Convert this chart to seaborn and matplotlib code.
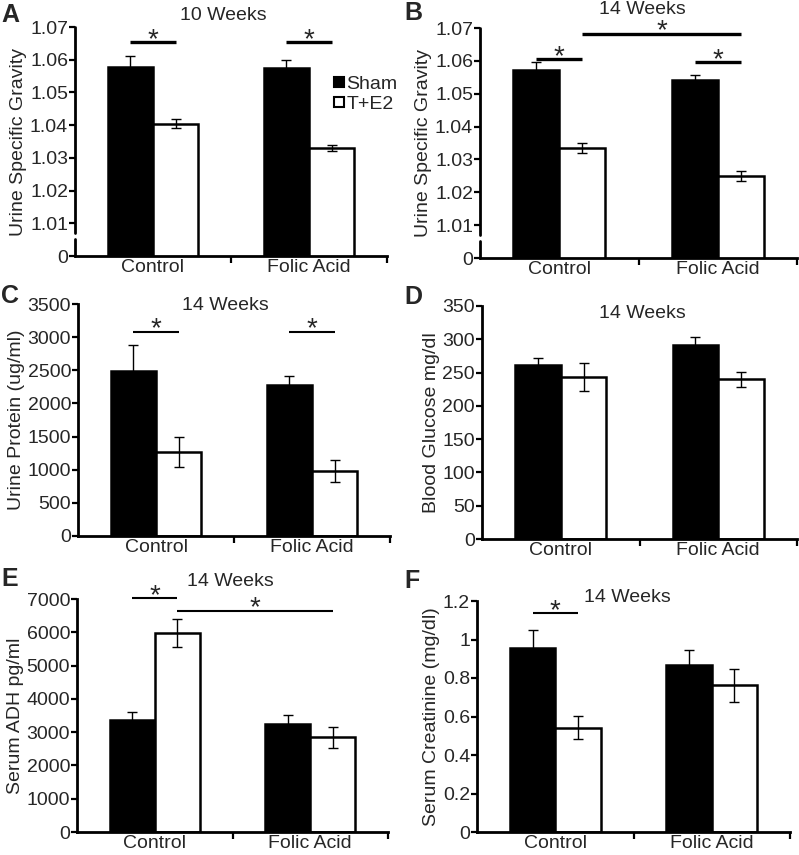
import numpy as np
import pandas as pd
import matplotlib
matplotlib.use("Agg")
import matplotlib.pyplot as plt
import seaborn as sns
from matplotlib.lines import Line2D

# data
groups = ["Control", "Folic Acid"]
treatments = ["Sham", "T+E2"]

# A - urine specific gravity, 10 weeks
a_sham = [1.0578, 1.0576]
a_sham_err = [0.0033, 0.0022]
a_te2 = [1.0405, 1.0329]
a_te2_err = [0.0015, 0.0009]

# B - urine specific gravity, 14 weeks
b_sham = [1.0571, 1.0541]
b_sham_err = [0.0026, 0.0015]
b_te2 = [1.0335, 1.0250]
b_te2_err = [0.0015, 0.0015]

# C - urine protein
c_sham = [2490, 2276]
c_sham_err = [390, 140]
c_te2 = [1261, 980]
c_te2_err = [225, 165]

# D - blood glucose
d_sham = [261, 292]
d_sham_err = [11, 11]
d_te2 = [243, 240]
d_te2_err = [21, 11]

# E - serum ADH
e_sham = [3360, 3240]
e_sham_err = [250, 270]
e_te2 = [5972, 2841]
e_te2_err = [420, 320]

# F - serum creatinine
f_sham = [0.956, 0.869]
f_sham_err = [0.093, 0.074]
f_te2 = [0.542, 0.762]
f_te2_err = [0.06, 0.085]

sg_ticks = [1.00, 1.01, 1.02, 1.03, 1.04, 1.05, 1.06, 1.07]
sg_labels = ["0", "1.01", "1.02", "1.03", "1.04", "1.05", "1.06", "1.07"]

sns.set_theme(style="ticks")
plt.rcParams["font.family"] = ["Liberation Sans", "DejaVu Sans"]

W, H = 799, 855
fig = plt.figure(figsize=(W / 100, H / 100), dpi=100)
FS = 14


def box(l, r, t, b):
    return [l / W, 1 - b / H, (r - l) / W, (b - t) / H]


def fig_text(x, y, s, **kw):
    fig.text(x / W, 1 - y / H, s, **kw)


panels = [
    dict(letter="A", lpos=(1, 15), title="10 Weeks", tpos=(223, 15),
         ylabel="Urine Specific Gravity", rect=box(75, 387, 27, 256),
         sham=a_sham, sham_err=a_sham_err, te2=a_te2, te2_err=a_te2_err,
         ylim=(1.0, 1.07), ticks=sg_ticks, labels=sg_labels, brk=(1.0051, 1.0069),
         brackets=[(("Sham", 0), ("T+E2", 0), 1.0654), (("Sham", 1), ("T+E2", 1), 1.0654)],
         blw=2.4, legend=True),
    dict(letter="B", lpos=(404, 13), title="14 Weeks", tpos=(642, 10),
         ylabel="Urine Specific Gravity", rect=box(480, 797, 28, 258),
         sham=b_sham, sham_err=b_sham_err, te2=b_te2, te2_err=b_te2_err,
         ylim=(1.0, 1.07), ticks=sg_ticks, labels=sg_labels, brk=(1.0051, 1.0069),
         brackets=[(("Sham", 0), ("T+E2", 0), 1.0606), (("T+E2", 0), ("T+E2", 1), 1.0683),
                   (("Sham", 1), ("T+E2", 1), 1.0596)],
         blw=2.4, legend=False),
    dict(letter="C", lpos=(1, 296), title="14 Weeks", tpos=(225, 305),
         ylabel="Urine Protein (ug/ml)", rect=box(78, 390, 304, 536),
         sham=c_sham, sham_err=c_sham_err, te2=c_te2, te2_err=c_te2_err,
         ylim=(0, 3500), ticks=list(range(0, 3501, 500)), labels=None, brk=None,
         brackets=[(("Sham", 0), ("T+E2", 0), 3080), (("Sham", 1), ("T+E2", 1), 3080)],
         blw=1.5, legend=False),
    dict(letter="D", lpos=(404, 297), title="14 Weeks", tpos=(642, 313),
         ylabel="Blood Glucose mg/dl", rect=box(482, 797, 306, 539),
         sham=d_sham, sham_err=d_sham_err, te2=d_te2, te2_err=d_te2_err,
         ylim=(0, 350), ticks=list(range(0, 351, 50)), labels=None, brk=None,
         brackets=[], blw=1.5, legend=False),
    dict(letter="E", lpos=(1, 579), title="14 Weeks", tpos=(230, 581),
         ylabel="Serum ADH pg/ml", rect=box(77, 388, 599, 832),
         sham=e_sham, sham_err=e_sham_err, te2=e_te2, te2_err=e_te2_err,
         ylim=(0, 7000), ticks=list(range(0, 7001, 1000)), labels=None, brk=None,
         brackets=[(("Sham", 0), ("T+E2", 0), 7019), (("T+E2", 0), ("T+E2", 1), 6650)],
         blw=1.5, legend=False),
    dict(letter="F", lpos=(404, 581), title="14 Weeks", tpos=(627, 597),
         ylabel="Serum Creatinine (mg/dl)", rect=box(477, 790, 601, 832),
         sham=f_sham, sham_err=f_sham_err, te2=f_te2, te2_err=f_te2_err,
         ylim=(0, 1.2), ticks=[0, 0.2, 0.4, 0.6, 0.8, 1.0, 1.2],
         labels=["0", "0.2", "0.4", "0.6", "0.8", "1", "1.2"], brk=None,
         brackets=[(("Sham", 0), ("T+E2", 0), 1.137)], blw=1.5, legend=False),
]

for p in panels:
    ax = fig.add_axes(p["rect"])
    df = pd.DataFrame({
        "group": groups * 2,
        "treatment": ["Sham"] * 2 + ["T+E2"] * 2,
        "value": p["sham"] + p["te2"],
    })
    sns.barplot(data=df, x="group", y="value", hue="treatment", hue_order=treatments,
                palette={"Sham": "black", "T+E2": "white"}, edgecolor="black",
                linewidth=1.8, width=0.58, errorbar=None, legend=False, ax=ax)

    # error bars and bar centres from the bar containers
    centres = {}
    for k, (treat, errs) in enumerate([("Sham", p["sham_err"]), ("T+E2", p["te2_err"])]):
        bars = ax.containers[k]
        xs = [b.get_x() + b.get_width() / 2 for b in bars]
        ys = [b.get_height() for b in bars]
        for i, x in enumerate(xs):
            centres[(treat, i)] = x
        ax.errorbar(xs, ys, yerr=errs, fmt="none", ecolor="black", elinewidth=1,
                    capsize=3.5, capthick=1, zorder=5)

    for a, b, y in p["brackets"]:
        x1, x2 = centres[a], centres[b]
        ax.plot([x1, x2], [y, y], color="black", lw=p["blw"], clip_on=False, solid_capstyle="butt")
        ax.annotate("*", xy=((x1 + x2) / 2, y), xytext=(0, -3.5), textcoords="offset points",
                    ha="center", va="baseline", fontsize=20, annotation_clip=False)

    ax.set_xlim(-0.5, 1.5)
    ax.set_ylim(*p["ylim"])
    ax.set_yticks(p["ticks"])
    if p["labels"] is not None:
        ax.set_yticklabels(p["labels"])
    ax.set_xticks([0, 1])
    ax.set_xticklabels(groups)
    ax.set_xticks([0.5, 1.5], minor=True)
    ax.set_xlabel("")
    ax.set_ylabel(p["ylabel"], fontsize=FS, labelpad=2)
    ax.tick_params(axis="x", which="major", length=0, labelsize=FS, pad=2)
    ax.tick_params(axis="x", which="minor", length=5, width=1.6, direction="out", color="black")
    ax.tick_params(axis="y", length=4, width=1.6, direction="out", labelsize=FS, pad=1, color="black")
    for s in ["top", "right"]:
        ax.spines[s].set_visible(False)
    for s in ["left", "bottom"]:
        ax.spines[s].set_linewidth(2)
        ax.spines[s].set_color("black")
    ax.spines["bottom"].set_zorder(6)

    if p["brk"] is not None:
        ax.spines["left"].set_visible(False)
        tr = ax.get_yaxis_transform()
        lo, hi = p["ylim"]
        ax.plot([0, 0], [lo, p["brk"][0]], color="black", lw=2, transform=tr, clip_on=False, zorder=6)
        ax.plot([0, 0], [p["brk"][1], hi], color="black", lw=2, transform=tr, clip_on=False, zorder=6)

    if p["legend"]:
        handles = [Line2D([], [], marker="s", ls="none", markersize=6.5, markerfacecolor="black",
                          markeredgecolor="black", markeredgewidth=1.5),
                   Line2D([], [], marker="s", ls="none", markersize=6.5, markerfacecolor="white",
                          markeredgecolor="black", markeredgewidth=1.5)]
        ax.legend(handles, treatments, loc="upper left", bbox_to_anchor=(0.83, 0.79),
                  frameon=False, fontsize=FS, handlelength=0.5, handletextpad=0.15,
                  labelspacing=0.15, borderaxespad=0, borderpad=0)

    fig_text(*p["tpos"], p["title"], ha="center", va="center", fontsize=FS)
    fig_text(*p["lpos"], p["letter"], ha="left", va="center", fontsize=18, fontweight="bold")

fig.savefig("out.png", dpi=100)
